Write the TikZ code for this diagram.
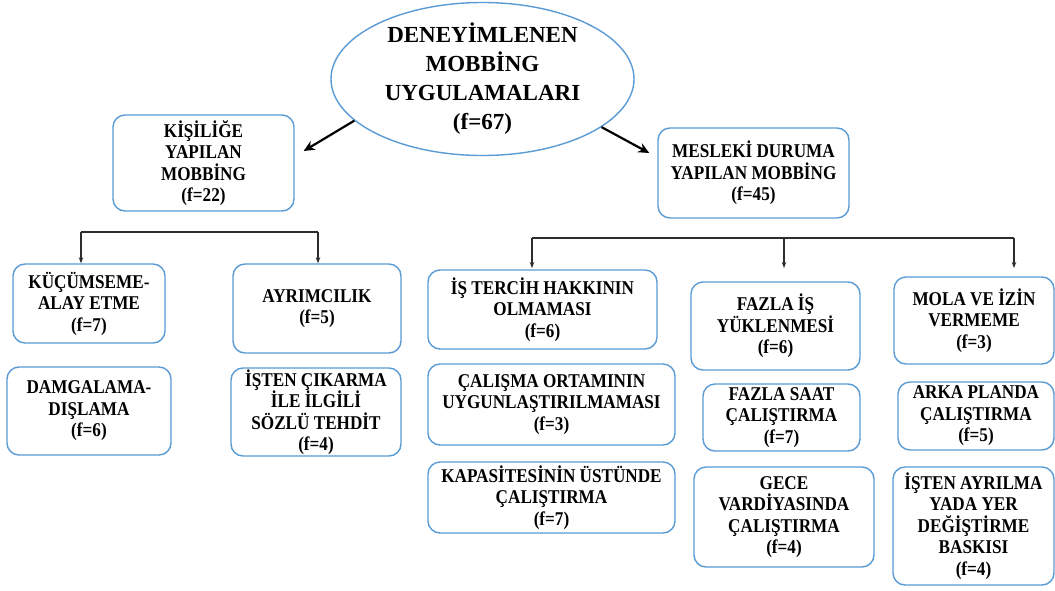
\documentclass[tikz,border=0pt]{standalone}
\usepackage{fontspec}
\setmainfont{Liberation Serif}
\newfontfamily\boxfont{Liberation Serif Bold}[FakeStretch=0.88]
\newfontfamily\rootfont{Liberation Serif Bold}
\usetikzlibrary{arrows.meta,shapes.geometric}
\definecolor{boxblue}{RGB}{91,155,213}
\definecolor{linegray}{RGB}{45,45,45}
\begin{document}
\begin{tikzpicture}[x=1pt,y=-1pt,
  box/.style={draw=boxblue,line width=1.4pt,rounded corners=12pt,align=center,inner sep=0pt,
    font={\boxfont\fontsize{19.5}{21.5}\selectfont}},
  rootshape/.style={ellipse,draw=boxblue,line width=1.4pt,inner sep=0pt},
  roottext/.style={align=center,inner sep=0pt,font={\rootfont\fontsize{23}{29}\selectfont}},
  mainarrow/.style={line width=2.2pt,-{Stealth[length=11pt,width=10pt]}},
  treeline/.style={draw=linegray,line width=1.1pt},
  treearrow/.style={treeline,-{Stealth[length=6pt,width=4.5pt]}}]
\useasboundingbox[fill=white] (0,0) rectangle (1055,590);

% root
\node[rootshape,minimum width=303pt,minimum height=153pt] (root) at (482.5,79) {};
\node[roottext] (roottxt) at (root.center) {DENEYİMLENEN\\MOBBİNG\\UYGULAMALARI\\(f=67)};

% level 1
\node[box,minimum width=181pt,minimum height=96pt] (kisi) at (203.5,163) {KİŞİLİĞE\\YAPILAN\\MOBBİNG\\(f=22)};
\node[box,minimum width=191pt,minimum height=90pt] (mesl) at (753.5,173) {MESLEKİ DURUMA\\YAPILAN MOBBİNG\\(f=45)};

\draw[mainarrow] (root.198) -- ([xshift=9pt,yshift=12pt]kisi.east);
\draw[mainarrow] (root.338) -- ([xshift=-8pt,yshift=20pt]mesl.west);

% left group
\node[box,minimum width=152pt,minimum height=79pt] (kucum) at (89,303.5) {KÜÇÜMSEME-\\ALAY ETME\\(f=7)};
\node[box,minimum width=168pt,minimum height=89pt] (ayrim) at (317,308.5) {AYRIMCILIK\\(f=5)};
\node[box,minimum width=164pt,minimum height=88pt] (damga) at (89,411) {DAMGALAMA-\\DIŞLAMA\\(f=6)};
\node[box,minimum width=170pt,minimum height=88pt] (isten1) at (316,412) {İŞTEN ÇIKARMA\\İLE İLGİLİ\\SÖZLÜ TEHDİT\\(f=4)};

\coordinate (lj1) at (81,232);
\coordinate (lj2) at (318,232);
\draw[treeline] (lj1) -- (lj2);
\draw[treearrow] (lj1) -- (lj1 |- kucum.north);
\draw[treearrow] (lj2) -- (lj2 |- ayrim.north);

% right group
\node[box,minimum width=229pt,minimum height=79pt] (ister) at (542.5,309.5) {İŞ TERCİH HAKKININ\\OLMAMASI\\(f=6)};
\node[box,minimum width=247pt,minimum height=81pt] (calis) at (551.5,404.5) {ÇALIŞMA ORTAMININ\\UYGUNLAŞTIRILMAMASI\\(f=3)};
\node[box,minimum width=247pt,minimum height=71pt] (kapas) at (551.5,497.5) {KAPASİTESİNİN ÜSTÜNDE\\ÇALIŞTIRMA\\(f=7)};

\node[box,minimum width=169pt,minimum height=88pt] (fazis) at (775.5,326) {FAZLA İŞ\\YÜKLENMESİ\\(f=6)};
\node[box,minimum width=157pt,minimum height=67pt] (fazsa) at (781.5,417.5) {FAZLA SAAT\\ÇALIŞTIRMA\\(f=7)};
\node[box,minimum width=180pt,minimum height=100pt] (gece) at (784,517) {GECE\\VARDİYASINDA\\ÇALIŞTIRMA\\(f=4)};

\node[box,minimum width=160pt,minimum height=87pt] (mola) at (974,320.5) {MOLA VE İZİN\\VERMEME\\(f=3)};
\node[box,minimum width=156pt,minimum height=68pt] (arka) at (976,416) {ARKA PLANDA\\ÇALIŞTIRMA\\(f=5)};
\node[box,minimum width=161pt,minimum height=118pt] (isten2) at (973.5,526) {İŞTEN AYRILMA\\YADA YER\\DEĞİŞTİRME\\BASKISI\\(f=4)};

\coordinate (rj1) at (532,238);
\coordinate (rj2) at (784,238);
\coordinate (rj3) at (1014,238);
\coordinate (rt1) at (532,268);
\coordinate (rt2) at (784,268);
\coordinate (rt3) at (1014,268);
\draw[treeline] (rj1) -- (rj3);
\draw[treearrow] (rj1) -- (rt1);
\draw[treearrow] (rj2) -- (rt2);
\draw[treearrow] (rj3) -- (rt3);
\end{tikzpicture}
\end{document}
